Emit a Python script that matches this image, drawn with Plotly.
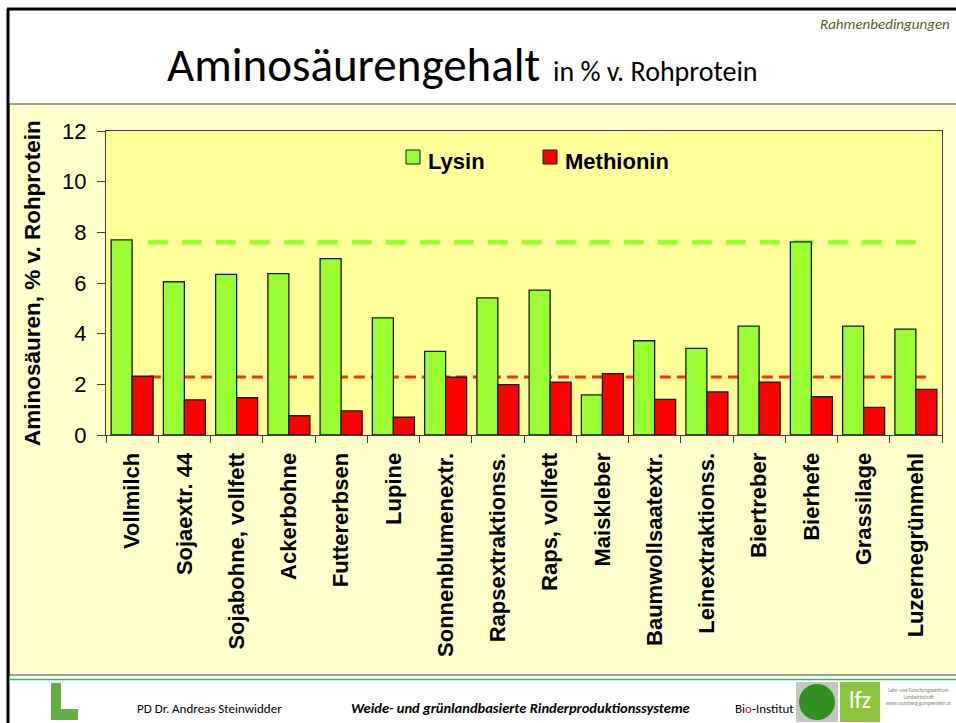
import plotly.graph_objects as go

# Feed components and amino acid contents (% of crude protein)
futtermittel = [
    "Vollmilch", "Sojaextr. 44", "Sojabohne, vollfett", "Ackerbohne",
    "Futtererbsen", "Lupine", "Sonnenblumenextr.", "Rapsextraktionss.",
    "Raps, vollfett", "Maiskleber", "Baumwollsaatextr.", "Leinextraktionss.",
    "Biertreber", "Bierhefe", "Grassilage", "Luzernegrünmehl",
]
lysin = [7.70, 6.05, 6.34, 6.37, 6.96, 4.62, 3.30, 5.41,
         5.72, 1.58, 3.72, 3.42, 4.30, 7.62, 4.30, 4.18]
methionin = [2.32, 1.39, 1.47, 0.76, 0.95, 0.70, 2.28, 1.99,
             2.09, 2.42, 1.41, 1.70, 2.09, 1.51, 1.09, 1.80]

# Reference levels (dashed lines)
ref_lysin = 7.61
ref_methionin = 2.29

y_ticks = [0, 2, 4, 6, 8, 10, 12]

GREEN = "#99FF33"
RED = "#FF0000"
RED_LINE = "#FF3300"
ARIAL = "Arial, Liberation Sans, sans-serif"
CALIBRI = "Carlito, Calibri, Lato, sans-serif"

W, H = 956, 723
L_M, R_M, T_M, B_M = 106, 14, 131, 288
PW = W - L_M - R_M
PH = H - T_M - B_M


def X(p):
    return (p - L_M) / PW


def Y(p):
    return (H - B_M - p) / PH


fig = go.Figure()
fig.add_bar(x=futtermittel, y=lysin, name="Lysin",
            marker=dict(color=GREEN, line=dict(color="#1a1a1a", width=1.3)))
fig.add_bar(x=futtermittel, y=methionin, name="Methionin",
            marker=dict(color=RED, line=dict(color="#1a1a1a", width=1.3)))

shapes = []
# chart area background
shapes.append(dict(type="rect", xref="paper", yref="paper", layer="below",
                   x0=X(9), x1=X(960), y0=Y(675), y1=Y(104),
                   fillcolor="#FFFFCC", line=dict(color="#3a3a3a", width=1)))
# plot area background
shapes.append(dict(type="rect", xref="x domain", yref="y domain", layer="below",
                   x0=0, x1=1, y0=0, y1=1, fillcolor="#FFFF99", line=dict(width=0)))
# reference lines
shapes.append(dict(type="line", xref="x", yref="y", x0=0.30, x1=15.12,
                   y0=ref_lysin, y1=ref_lysin, layer="below",
                   line=dict(color=GREEN, width=5, dash="20px,14px")))
shapes.append(dict(type="line", xref="x", yref="y", x0=0.34, x1=15.29,
                   y0=ref_methionin, y1=ref_methionin, layer="below",
                   line=dict(color=RED_LINE, width=3, dash="11px,6px")))
# slide frame (left and top)
shapes.append(dict(type="line", xref="paper", yref="paper",
                   x0=X(8), x1=X(8), y0=Y(9), y1=Y(730),
                   line=dict(color="#000000", width=3)))
shapes.append(dict(type="line", xref="paper", yref="paper",
                   x0=X(7), x1=X(960), y0=Y(9), y1=Y(9),
                   line=dict(color="#000000", width=3)))
# footer separator
shapes.append(dict(type="line", xref="paper", yref="paper",
                   x0=X(9), x1=X(960), y0=Y(679.5), y1=Y(679.5),
                   line=dict(color="#3DB05A", width=1.5)))
# legend symbols
shapes.append(dict(type="rect", xref="paper", yref="paper",
                   x0=X(406), x1=X(420), y0=Y(164), y1=Y(150),
                   fillcolor=GREEN, line=dict(color="#1a1a1a", width=1)))
shapes.append(dict(type="rect", xref="paper", yref="paper",
                   x0=X(543), x1=X(557), y0=Y(164), y1=Y(150),
                   fillcolor=RED, line=dict(color="#1a1a1a", width=1)))
# footer logos
shapes.append(dict(type="rect", xref="paper", yref="paper",
                   x0=X(51), x1=X(61), y0=Y(720), y1=Y(683),
                   fillcolor="#62B044", line=dict(width=0)))
shapes.append(dict(type="rect", xref="paper", yref="paper",
                   x0=X(51), x1=X(78), y0=Y(720), y1=Y(709),
                   fillcolor="#62B044", line=dict(width=0)))
shapes.append(dict(type="rect", xref="paper", yref="paper",
                   x0=X(796), x1=X(838), y0=Y(722), y1=Y(682),
                   fillcolor="#C4C7C0", line=dict(width=0)))
shapes.append(dict(type="circle", xref="paper", yref="paper",
                   x0=X(799), x1=X(835), y0=Y(720), y1=Y(684),
                   fillcolor="#2F8F1F", line=dict(width=0)))
shapes.append(dict(type="rect", xref="paper", yref="paper",
                   x0=X(840), x1=X(880), y0=Y(722), y1=Y(682),
                   fillcolor="#8CC63E", line=dict(width=0)))

annotations = []


def text(x, y, t, size, color="#000000", family=ARIAL, xanchor="center",
         yanchor="middle", angle=0):
    annotations.append(dict(xref="paper", yref="paper", x=X(x), y=Y(y), text=t,
                            showarrow=False, xanchor=xanchor, yanchor=yanchor,
                            textangle=angle,
                            font=dict(size=size, color=color, family=family)))


text(952, 24, "<i>Rahmenbedingungen</i>", 15, color="#4F6228", family=CALIBRI,
     xanchor="right")
text(462, 65,
     "<span style='font-size:47px'>Aminosäurengehalt</span>"
     "<span style='font-size:28px'>  in % v. Rohprotein</span>",
     47, family=CALIBRI)
text(32, 283, "<b>Aminosäuren, % v. Rohprotein</b>", 22.5, angle=-90)
text(426, 161, "<b>Lysin</b>", 22, xanchor="left")
text(563, 161, "<b>Methionin</b>", 22, xanchor="left")
text(209, 708, "PD Dr. Andreas Steinwidder", 13, family=CALIBRI)
text(520, 708, "<b><i>Weide- und grünlandbasierte Rinderproduktionssysteme</i></b>",
     14.5, family=CALIBRI)
text(764, 708, "Bi<span style='color:#E02020'>o</span>-Institut", 13, family=CALIBRI)
text(860, 699, "lfz", 24, color="#FFFFFF", family=CALIBRI)
text(884, 696, "Lehr- und Forschungszentrum<br>Landwirtschaft<br>www.raumberg-gumpenstein.at",
     5, color="#7A8A6A", family=CALIBRI, xanchor="left")

fig.update_layout(
    width=W, height=H,
    margin=dict(l=L_M, r=R_M, t=T_M, b=B_M),
    paper_bgcolor="#FFFFFF",
    plot_bgcolor="rgba(0,0,0,0)",
    barmode="group",
    bargap=0.196,
    bargroupgap=0,
    showlegend=False,
    shapes=shapes,
    annotations=annotations,
    font=dict(family=ARIAL, color="#000000"),
)
fig.update_xaxes(
    type="category", tickson="boundaries", ticks="outside", ticklen=7,
    tickcolor="#404040", tickangle=-90,
    tickfont=dict(size=22, family=ARIAL, weight="bold"),
    showline=True, linecolor="#404040", linewidth=1, mirror=True,
    showgrid=False, range=[-0.5, 15.5], ticklabelstandoff=8,
)
fig.update_yaxes(
    range=[0, 12], tickvals=y_ticks, ticks="outside", ticklen=8,
    tickcolor="#404040", tickfont=dict(size=22, family=ARIAL),
    showline=True, linecolor="#404040", linewidth=1, mirror=True,
    showgrid=False, zeroline=False, ticklabelstandoff=6,
)

fig.write_html("out.html")
